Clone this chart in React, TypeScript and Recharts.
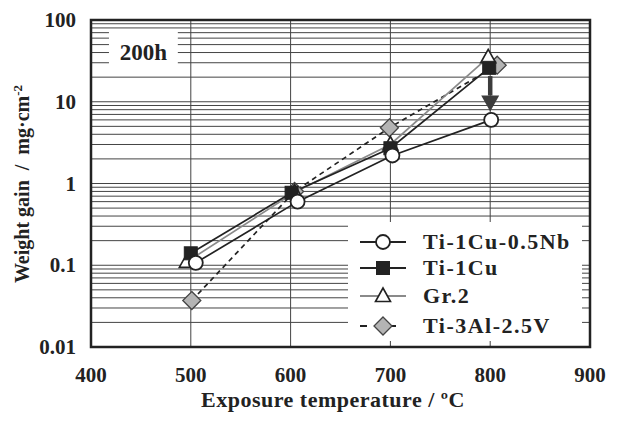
import {
  LineChart,
  Line,
  XAxis,
  YAxis,
  CartesianGrid,
  ReferenceArea,
  ReferenceLine
} from 'recharts';

// values
const nbTemps = [505, 607, 702, 801];
const nbGain = [0.107, 0.6, 2.2, 6.0];
const cuTemps = [500, 601, 700, 799];
const cuGain = [0.14, 0.77, 2.7, 26];
const gr2Temps = [496, 604, 700, 798];
const gr2Gain = [0.11, 0.78, 3.0, 35];
const alvTemps = [501, 604, 699, 807];
const alvGain = [0.037, 0.8, 4.8, 28];

const xTicks = [400, 500, 600, 700, 800, 900];
const yTicks = [
  0.01, 0.02, 0.03, 0.04, 0.05, 0.06, 0.07, 0.08, 0.09,
  0.1, 0.2, 0.3, 0.4, 0.5, 0.6, 0.7, 0.8, 0.9,
  1, 2, 3, 4, 5, 6, 7, 8, 9,
  10, 20, 30, 40, 50, 60, 70, 80, 90,
  100
];
const yLabels: Record<number, string> = { 0.01: '0.01', 0.1: '0.1', 1: '1', 10: '10', 100: '100' };

// drop from the Ti-1Cu 800 °C value to the Ti-1Cu-0.5Nb one
const arrowFrom = 20.6;
const arrowTo = 7.6;

const FONT = '"Liberation Serif", "Times New Roman", serif';
const INK = '#222';

const toRows = (xs: number[], ys: number[]) => xs.map((x, i) => ({ x, y: ys[i] }));

function CircleDot({ cx, cy }: any) {
  return <circle cx={cx} cy={cy} r={7} fill="#fff" stroke={INK} strokeWidth={1.8} />;
}
function SquareDot({ cx, cy }: any) {
  return <rect x={cx - 6.5} y={cy - 6.5} width={13} height={13} fill={INK} stroke={INK} strokeWidth={1} />;
}
function TriangleDot({ cx, cy }: any) {
  return (
    <polygon
      points={`${cx},${cy - 8} ${cx - 7.5},${cy + 5.5} ${cx + 7.5},${cy + 5.5}`}
      fill="#fff"
      stroke={INK}
      strokeWidth={1.6}
    />
  );
}
function DiamondDot({ cx, cy }: any) {
  return (
    <polygon
      points={`${cx},${cy - 9} ${cx + 9},${cy} ${cx},${cy + 9} ${cx - 9},${cy}`}
      fill="#b4b4b4"
      stroke="#444"
      strokeWidth={1.3}
    />
  );
}

const series = [
  { name: 'Ti-1Cu-0.5Nb', Dot: CircleDot, stroke: INK, dash: undefined },
  { name: 'Ti-1Cu', Dot: SquareDot, stroke: INK, dash: undefined },
  { name: 'Gr.2', Dot: TriangleDot, stroke: '#8a8a8a', dash: undefined },
  { name: 'Ti-3Al-2.5V', Dot: DiamondDot, stroke: INK, dash: '5 4' }
];

function Arrow(props: any) {
  const { x1, y1, x2, y2 } = props;
  const head = 16;
  return (
    <g>
      <line x1={x1} y1={y1} x2={x2} y2={y2 - head} stroke="#3c3c3c" strokeWidth={4.5} />
      <polygon points={`${x2 - 9},${y2 - head} ${x2 + 9},${y2 - head} ${x2},${y2}`} fill="#3c3c3c" />
    </g>
  );
}

function YTick({ x, y, payload }: any) {
  const label = yLabels[payload.value];
  if (!label) return null;
  return (
    <text x={x} y={y} dx={-7} dy={7} textAnchor="end" fontFamily={FONT} fontWeight="bold" fontSize={21} fill={INK}>
      {label}
    </text>
  );
}

function XTick({ x, y, payload }: any) {
  return (
    <text x={x} y={y} dy={27} textAnchor="middle" fontFamily={FONT} fontWeight="bold" fontSize={21} fill={INK}>
      {payload.value}
    </text>
  );
}

function LegendBox() {
  return (
    <div
      style={{
        position: 'absolute',
        left: 348,
        top: 222,
        width: 234,
        height: 119,
        background: '#fff',
        fontFamily: FONT,
        fontWeight: 'bold',
        fontSize: 22,
        letterSpacing: 1.5,
        color: INK
      }}
    >
      {series.map((s, i) => (
        <div key={s.name} style={{ position: 'absolute', left: 10, top: [8, 34, 62, 92][i], height: 24, display: 'flex', alignItems: 'center', whiteSpace: 'nowrap' }}>
          <svg width={50} height={24}>
            <line x1={2} y1={12} x2={48} y2={12} stroke={s.stroke} strokeWidth={1.8} strokeDasharray={s.dash ? '7 22' : undefined} />
            <s.Dot cx={25} cy={12} />
          </svg>
          <span style={{ marginLeft: 15, lineHeight: '24px' }}>{s.name}</span>
        </div>
      ))}
    </div>
  );
}

export default function App() {
  const rows = [toRows(nbTemps, nbGain), toRows(cuTemps, cuGain), toRows(gr2Temps, gr2Gain), toRows(alvTemps, alvGain)];
  const drawOrder = [3, 2, 1, 0];

  return (
    <div style={{ position: 'absolute', left: 0, top: 0, width: 617, height: 424, background: '#fff' }}>
      <LineChart width={617} height={424} margin={{ top: 20, right: 27, bottom: 27, left: 0 }}>
        <CartesianGrid stroke="#444" strokeWidth={1} />
        <XAxis
          type="number"
          dataKey="x"
          domain={[400, 900]}
          ticks={xTicks}
          allowDataOverflow
          height={50}
          axisLine={false}
          tickLine={false}
          tick={<XTick />}
          label={{
            content: () => (
              <text x={333} y={407} textAnchor="middle" fontFamily={FONT} fontWeight="bold" fontSize={22} letterSpacing={0.5} fill={INK}>
                Exposure temperature / ºC
              </text>
            )
          }}
        />
        <YAxis
          type="number"
          dataKey="y"
          scale="log"
          domain={[0.01, 100]}
          ticks={yTicks}
          allowDataOverflow
          width={91}
          axisLine={false}
          tickLine={false}
          tick={<YTick />}
          interval={0}
          label={{
            content: () => (
              <text
                transform="translate(29,184) rotate(-90)"
                textAnchor="middle"
                fontFamily={FONT}
                fontWeight="bold"
                fontSize={20}
                fill={INK}
                xmlSpace="preserve"
              >
                Weight gain  /  mg·cm<tspan dy={-7} fontSize={13}>-2</tspan>
              </text>
            )
          }}
        />
        <ReferenceArea
          x1={418}
          x2={487}
          y1={22.5}
          y2={72}
          fill="#fff"
          fillOpacity={1}
          stroke="none"
          label={{ value: '200h', fontFamily: FONT, fontWeight: 'bold', fontSize: 23, fill: INK, position: 'center' }}
        />
        {drawOrder.map((i) => {
          const s = series[i];
          return (
            <Line
              key={s.name}
              data={rows[i]}
              dataKey="y"
              name={s.name}
              type="linear"
              stroke={s.stroke}
              strokeWidth={1.7}
              strokeDasharray={s.dash}
              dot={(p: any) => <s.Dot key={p.index} cx={p.cx} cy={p.cy} />}
              activeDot={false}
              isAnimationActive={false}
            />
          );
        })}
        <ReferenceLine
          segment={[
            { x: 800, y: arrowFrom },
            { x: 800, y: arrowTo }
          ]}
          shape={<Arrow />}
        />
        <ReferenceArea x1={400} x2={900} y1={0.01} y2={100} fill="none" stroke={INK} strokeWidth={2.5} />
      </LineChart>
      <LegendBox />
    </div>
  );
}
